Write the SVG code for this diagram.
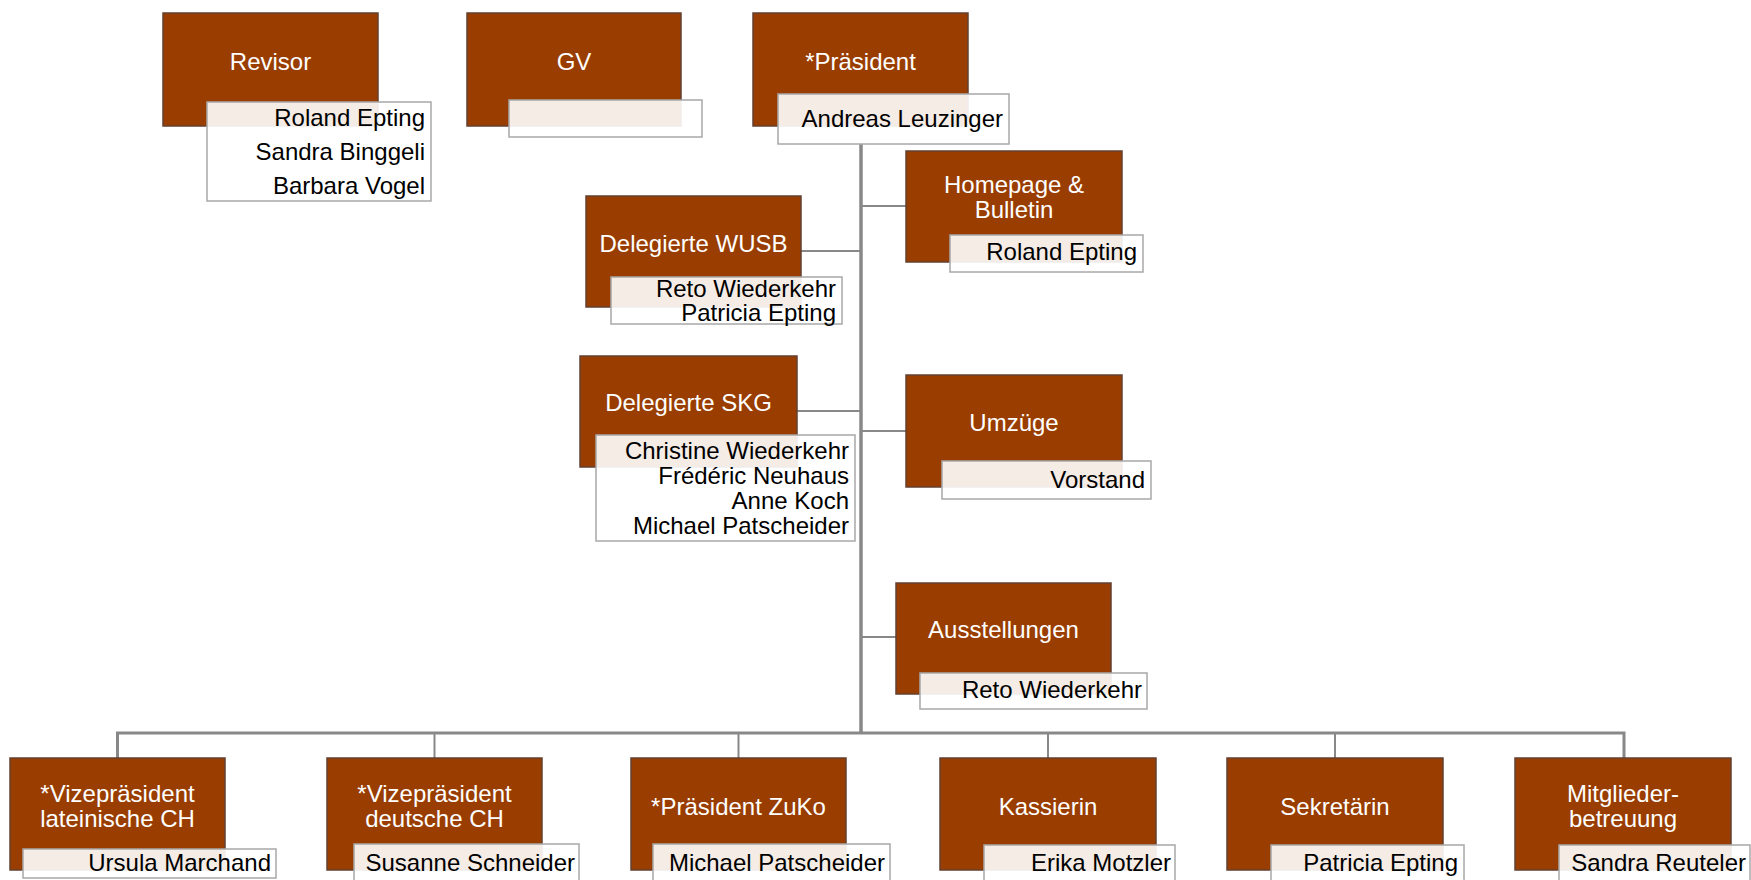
<svg xmlns="http://www.w3.org/2000/svg" width="1751" height="880" viewBox="0 0 1751 880">
<style>
.box{fill:#993D00;stroke:#634030;stroke-width:1.5}
.nb{fill:#ffffff;fill-opacity:0.9;stroke:#A8A8A8;stroke-width:1.5}
.t{font-family:"Liberation Sans",Arial,sans-serif;font-size:24px;fill:#ffffff;text-anchor:middle}
.n{font-family:"Liberation Sans",Arial,sans-serif;font-size:24px;fill:#000000;text-anchor:end}
.c{fill:none;stroke:#888888;stroke-width:2}
.trunk{fill:none;stroke:#888888;stroke-width:3.5}
</style>
<rect width="1751" height="880" fill="#ffffff"/>
<g id="connectors">
<line class="trunk" x1="861" y1="144" x2="861" y2="734"/>
<line class="c" x1="861" y1="206" x2="906" y2="206"/>
<line class="c" x1="801" y1="251" x2="861" y2="251"/>
<line class="c" x1="797" y1="411" x2="861" y2="411"/>
<line class="c" x1="861" y1="431" x2="906" y2="431"/>
<line class="c" x1="861" y1="637" x2="896" y2="637"/>
<polyline class="c" points="117.5,758 117.5,733 1624,733 1624,758" style="stroke-width:3"/>
<line class="c" x1="434.5" y1="733" x2="434.5" y2="758"/>
<line class="c" x1="738.5" y1="733" x2="738.5" y2="758"/>
<line class="c" x1="1048" y1="733" x2="1048" y2="758"/>
<line class="c" x1="1335" y1="733" x2="1335" y2="758"/>
</g>
<g id="revisor">
<rect class="box" x="163" y="13" width="215" height="113"/>
<text class="t" x="270.5" y="70">Revisor</text>
<rect class="nb" x="207" y="102" width="224" height="99"/>
<text class="n" x="425" y="126">Roland Epting</text>
<text class="n" x="425" y="160">Sandra Binggeli</text>
<text class="n" x="425" y="194">Barbara Vogel</text>
</g>
<g id="gv">
<rect class="box" x="467" y="13" width="214" height="113"/>
<text class="t" x="574" y="70">GV</text>
<rect class="nb" x="509" y="100" width="193" height="37"/>
</g>
<g id="praesident">
<rect class="box" x="753" y="13" width="215" height="113"/>
<text class="t" x="860.5" y="70">*Präsident</text>
<rect class="nb" x="778" y="94" width="231" height="50"/>
<text class="n" x="1003" y="127">Andreas Leuzinger</text>
</g>
<g id="homepage">
<rect class="box" x="906" y="151" width="216" height="111"/>
<text class="t" x="1014" y="193">Homepage &amp;</text>
<text class="t" x="1014" y="218">Bulletin</text>
<rect class="nb" x="950" y="235" width="193" height="37"/>
<text class="n" x="1137" y="260">Roland Epting</text>
</g>
<g id="wusb">
<rect class="box" x="586" y="196" width="215" height="111"/>
<text class="t" x="693.5" y="252">Delegierte WUSB</text>
<rect class="nb" x="611" y="277" width="231" height="47"/>
<text class="n" x="836" y="297">Reto Wiederkehr</text>
<text class="n" x="836" y="321">Patricia Epting</text>
</g>
<g id="skg">
<rect class="box" x="580" y="356" width="217" height="111"/>
<text class="t" x="688.5" y="411">Delegierte SKG</text>
<rect class="nb" x="596" y="435" width="259" height="106"/>
<text class="n" x="849" y="459">Christine Wiederkehr</text>
<text class="n" x="849" y="484">Frédéric Neuhaus</text>
<text class="n" x="849" y="509">Anne Koch</text>
<text class="n" x="849" y="534">Michael Patscheider</text>
</g>
<g id="umzuege">
<rect class="box" x="906" y="375" width="216" height="112"/>
<text class="t" x="1014" y="431">Umzüge</text>
<rect class="nb" x="942" y="461" width="209" height="38"/>
<text class="n" x="1145" y="488">Vorstand</text>
</g>
<g id="ausstellungen">
<rect class="box" x="896" y="583" width="215" height="111"/>
<text class="t" x="1003.5" y="638">Ausstellungen</text>
<rect class="nb" x="920" y="673" width="227" height="36"/>
<text class="n" x="1142" y="698">Reto Wiederkehr</text>
</g>
<g id="vize-lat">
<rect class="box" x="10" y="758" width="215" height="112"/>
<text class="t" x="117.5" y="802">*Vizepräsident</text>
<text class="t" x="117.5" y="827">lateinische CH</text>
<rect class="nb" x="23" y="849" width="253" height="29"/>
<text class="n" x="271" y="871">Ursula Marchand</text>
</g>
<g id="vize-de">
<rect class="box" x="327" y="758" width="215" height="112"/>
<text class="t" x="434.5" y="802">*Vizepräsident</text>
<text class="t" x="434.5" y="827">deutsche CH</text>
<rect class="nb" x="354" y="844" width="225" height="40"/>
<text class="n" x="575" y="871">Susanne Schneider</text>
</g>
<g id="zuko">
<rect class="box" x="631" y="758" width="215" height="112"/>
<text class="t" x="738.5" y="815">*Präsident ZuKo</text>
<rect class="nb" x="653" y="844" width="237" height="40"/>
<text class="n" x="885" y="871">Michael Patscheider</text>
</g>
<g id="kassierin">
<rect class="box" x="940" y="758" width="216" height="112"/>
<text class="t" x="1048" y="815">Kassierin</text>
<rect class="nb" x="984" y="845" width="191" height="40"/>
<text class="n" x="1171" y="871">Erika Motzler</text>
</g>
<g id="sekretaerin">
<rect class="box" x="1227" y="758" width="216" height="112"/>
<text class="t" x="1335" y="815">Sekretärin</text>
<rect class="nb" x="1271" y="845" width="193" height="40"/>
<text class="n" x="1458" y="871">Patricia Epting</text>
</g>
<g id="mitglieder">
<rect class="box" x="1515" y="758" width="216" height="112"/>
<text class="t" x="1623" y="802">Mitglieder-</text>
<text class="t" x="1623" y="827">betreuung</text>
<rect class="nb" x="1559" y="845" width="191" height="40"/>
<text class="n" x="1746" y="871">Sandra Reuteler</text>
</g>
</svg>
